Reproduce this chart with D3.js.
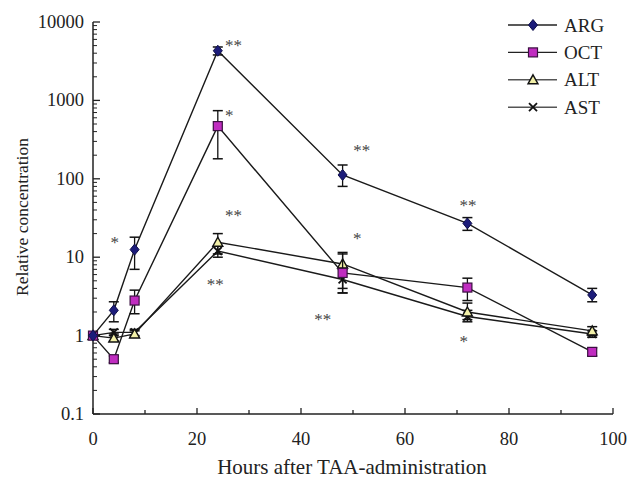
<!DOCTYPE html>
<html>
<head>
<meta charset="utf-8">
<script src="https://cdn.jsdelivr.net/npm/d3@7"></script>
<style>
  body { margin: 0; background: #fff; }
  svg text { font-family: "Liberation Serif", "DejaVu Serif", serif; fill: #222; }
</style>
</head>
<body>
<div id="chart"></div>
<script>
// Sampling times (hours)
const hours = [0, 4, 8, 24, 48, 72, 96];

// Series values (mean) and error bars (low / high)
const argValues = [1, 2.1, 12.5, 4300, 112, 27, 3.3];
const argLow    = [1, 1.5, 7, 3800, 80, 22, 2.7];
const argHigh   = [1, 2.7, 18, 4800, 150, 32, 4];

const octValues = [1, 0.5, 2.8, 470, 6.3, 4.1, 0.62];
const octLow    = [1, 0.45, 1.9, 180, 4, 2.8, 0.55];
const octHigh   = [1, 0.55, 3.8, 740, 11, 5.4, 0.7];

const altValues = [1, 0.93, 1.05, 15.5, 8.2, 2.0, 1.15];
const altLow    = [1, 0.85, 0.95, 11, 3.5, 1.6, 1.0];
const altHigh   = [1, 1.05, 1.15, 20, 11.5, 2.6, 1.3];

const astValues = [1, 1.1, 1.1, 12, 5.2, 1.75, 1.05];
const astLow    = [1, 1.0, 1.0, 10, 3.5, 1.5, 0.95];
const astHigh   = [1, 1.2, 1.2, 14, 7, 2.1, 1.15];

const seriesNames = ["ARG", "OCT", "ALT", "AST"];

// Significance marks: [hour, value at visual centre, label]
const marks = [
  [4.2, 17, "*"],
  [27, 5600, "**"],
  [26.2, 720, "*"],
  [27, 38, "**"],
  [23.5, 4.9, "**"],
  [51.7, 255, "**"],
  [50.8, 19, "*"],
  [44.2, 1.8, "**"],
  [72.1, 50, "**"],
  [71.3, 0.92, "*"]
];

const xTicks = [0, 20, 40, 60, 80, 100];
const yTicks = [0.1, 1, 10, 100, 1000, 10000];

const series = [
  { name: "ARG", v: argValues, lo: argLow, hi: argHigh, shape: "diamond", fill: "#1c1c7a", stroke: "#10104a" },
  { name: "OCT", v: octValues, lo: octLow, hi: octHigh, shape: "square", fill: "#c02cc0", stroke: "#3a1040" },
  { name: "ALT", v: altValues, lo: altLow, hi: altHigh, shape: "triangle", fill: "#f2f0a8", stroke: "#111" },
  { name: "AST", v: astValues, lo: astLow, hi: astHigh, shape: "cross", fill: "none", stroke: "#111" }
];

const W = 630, H = 478;
const svg = d3.select("#chart").append("svg").attr("width", W).attr("height", H);

const x = d3.scaleLinear().domain([0, 100]).range([93, 613]);
const y = d3.scaleLog().domain([0.1, 10000]).range([414, 22]);

// Axes (ticks point inward)
const gx = svg.append("g").attr("transform", `translate(0,${y(0.1)})`);
gx.append("line").attr("x1", x(0)).attr("x2", x(100)).attr("stroke", "#222").attr("stroke-width", 1.5);
gx.selectAll(".maj").data(xTicks).enter().append("line")
  .attr("x1", d => x(d)).attr("x2", d => x(d)).attr("y1", 0).attr("y2", -6)
  .attr("stroke", "#222").attr("stroke-width", 1.3);
gx.selectAll(".min").data(d3.range(10, 100, 20)).enter().append("line")
  .attr("x1", d => x(d)).attr("x2", d => x(d)).attr("y1", 0).attr("y2", -4)
  .attr("stroke", "#222").attr("stroke-width", 1.3);
gx.selectAll("text").data(xTicks).enter().append("text")
  .attr("x", d => x(d)).attr("y", 31).attr("text-anchor", "middle")
  .attr("font-size", 18.5).text(d => d);

const gy = svg.append("g").attr("transform", `translate(${x(0)},0)`);
gy.append("line").attr("y1", y(0.1)).attr("y2", y(10000)).attr("stroke", "#222").attr("stroke-width", 1.5);
const minorY = [];
[0.1, 1, 10, 100, 1000].forEach(b => { for (let k = 2; k <= 9; k++) minorY.push(b * k); });
gy.selectAll(".min").data(minorY).enter().append("line")
  .attr("x1", 0).attr("x2", 4).attr("y1", d => y(d)).attr("y2", d => y(d))
  .attr("stroke", "#222").attr("stroke-width", 1);
gy.selectAll(".maj").data(yTicks).enter().append("line")
  .attr("x1", 0).attr("x2", 7).attr("y1", d => y(d)).attr("y2", d => y(d))
  .attr("stroke", "#222").attr("stroke-width", 1.3);
gy.selectAll("text").data(yTicks).enter().append("text")
  .attr("x", -9).attr("y", d => y(d) + 6).attr("text-anchor", "end")
  .attr("font-size", 18.5).text(d => d);

// Axis titles
svg.append("text").attr("x", 352).attr("y", 474).attr("text-anchor", "middle")
  .attr("font-size", 21).text("Hours after TAA-administration");
svg.append("text").attr("transform", "translate(28,217)rotate(-90)")
  .attr("text-anchor", "middle").attr("font-size", 17.5).text("Relative concentration");

const line = d3.line().x(d => x(d[0])).y(d => y(d[1]));

function drawMarker(g, shape, fill, stroke) {
  if (shape === "diamond") {
    g.append("path").attr("d", "M0,-5.5L4.5,0L0,5.5L-4.5,0Z").attr("fill", fill).attr("stroke", stroke).attr("stroke-width", 1);
  } else if (shape === "square") {
    g.append("rect").attr("x", -4.5).attr("y", -4.5).attr("width", 9).attr("height", 9)
      .attr("fill", fill).attr("stroke", stroke).attr("stroke-width", 1.2);
  } else if (shape === "triangle") {
    g.append("path").attr("d", "M0,-5L5,4L-5,4Z").attr("fill", fill).attr("stroke", stroke).attr("stroke-width", 1.4);
  } else {
    g.append("path").attr("d", "M-4,-4L4,4M-4,4L4,-4").attr("stroke", stroke).attr("stroke-width", 1.8);
  }
}

// Series lines, error bars, markers (draw in reverse so ARG sits on top)
series.slice().reverse().forEach(s => {
  const pts = hours.map((h, i) => [h, s.v[i]]);
  svg.append("path").datum(pts).attr("d", line)
    .attr("fill", "none").attr("stroke", "#1a1a1a").attr("stroke-width", 1.4);
  const eb = svg.append("g");
  hours.forEach((h, i) => {
    if (s.lo[i] === s.hi[i]) return;
    const cx = x(h);
    eb.append("line").attr("x1", cx).attr("x2", cx).attr("y1", y(s.lo[i])).attr("y2", y(s.hi[i]))
      .attr("stroke", "#111").attr("stroke-width", 1.3);
    [s.lo[i], s.hi[i]].forEach(v => {
      eb.append("line").attr("x1", cx - 5).attr("x2", cx + 5).attr("y1", y(v)).attr("y2", y(v))
        .attr("stroke", "#111").attr("stroke-width", 1.5);
    });
  });
  pts.forEach(p => {
    const g = svg.append("g").attr("transform", `translate(${x(p[0])},${y(p[1])})`);
    drawMarker(g, s.shape, s.fill, s.stroke);
  });
});

// Significance stars
svg.selectAll(".sig").data(marks).enter().append("text")
  .attr("x", d => x(d[0])).attr("y", d => y(d[1]) + 9)
  .attr("text-anchor", "middle").attr("font-size", 17).style("fill", "#444")
  .text(d => d[2]);

// Legend
const lg = svg.append("g").attr("transform", "translate(508,25)");
series.forEach((s, i) => {
  const r = lg.append("g").attr("transform", `translate(0,${i * 27.4})`);
  r.append("line").attr("x1", 0).attr("x2", 49).attr("stroke", i < 2 ? "#222" : "#555").attr("stroke-width", 1.4);
  const m = r.append("g").attr("transform", "translate(25,0)");
  drawMarker(m, s.shape, s.fill, s.stroke);
  r.append("text").attr("x", 56).attr("y", 6.5).attr("font-size", 19).text(seriesNames[i]);
});
</script>
</body>
</html>
